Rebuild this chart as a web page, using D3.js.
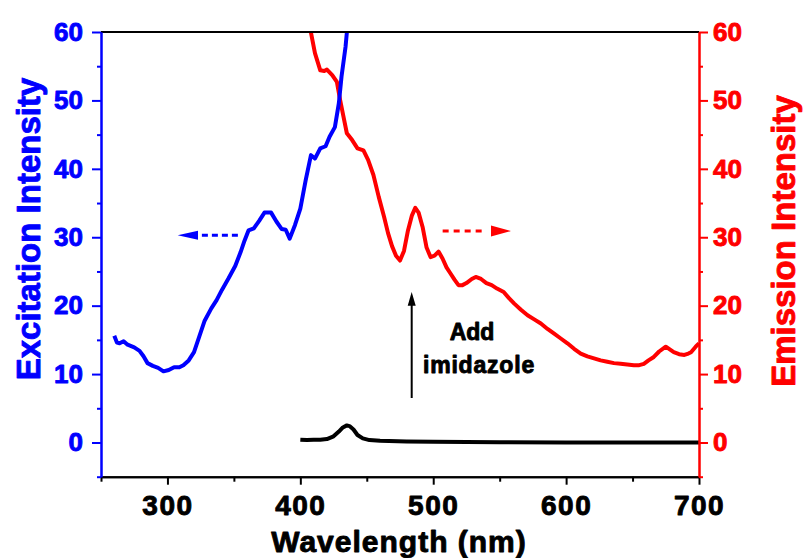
<!DOCTYPE html>
<html>
<head>
<meta charset="utf-8">
<script src="https://cdn.jsdelivr.net/npm/d3@7"></script>
<style>
  body { margin: 0; background: #fff; }
  text { font-family: "Liberation Sans", Arial, sans-serif; font-weight: bold; }
</style>
</head>
<body>
<script>
// excitation spectrum (blue, left axis)
var excWl  = [260, 262, 264, 267, 270, 275, 279, 282, 285, 289, 293, 297, 301, 305, 309, 312, 316, 320, 324, 328,
              333, 337, 341, 346, 351, 355, 358, 361, 365, 369, 373, 378, 382, 386, 389, 392, 396, 400, 404, 408,
              411, 415, 419, 422, 426, 429, 431, 434, 435, 437];
var excVal = [15.6, 14.6, 14.5, 14.8, 14.3, 13.9, 13.4, 12.6, 11.6, 11.2, 10.9, 10.4, 10.6, 11.0, 11.0, 11.3, 12.0, 13.2, 15.5, 17.8,
              19.6, 20.8, 22.3, 24.0, 25.8, 27.8, 29.5, 31.0, 31.3, 32.4, 33.6, 33.6, 32.3, 31.2, 31.1, 29.8, 31.8, 34.2, 38.3, 42.0,
              41.5, 43.0, 43.3, 44.7, 46.1, 49.6, 53.5, 57.8, 59.9, 63];

// emission spectrum (red, right axis)
var emWl  = [404, 408, 411, 415, 418, 420, 424, 427.5, 430, 432.5, 435, 439, 443, 447.5, 451, 455, 459, 463, 466, 469,
             472, 475, 478, 481, 484, 486.5, 489, 492, 495, 498, 501, 504, 507, 510, 513, 516, 519, 522, 525, 529,
             532, 536, 540, 544, 548, 553, 557, 561, 566, 571, 576, 581, 586, 591, 596, 601, 606, 611, 616, 621,
             626, 631, 636, 641, 646, 651, 655, 658.5, 662, 666, 670, 675, 678, 681, 685, 689, 692, 694, 697.5, 700];
var emVal = [65, 59.9, 56.9, 54.4, 54.3, 54.5, 53.7, 52.7, 50.0, 47.6, 45.2, 44.2, 43.0, 42.7, 41.3, 39.1, 35.9, 33.0, 30.6, 28.7,
             27.3, 26.6, 28.0, 31.0, 33.2, 34.3, 33.6, 31.5, 28.5, 27.1, 27.3, 27.9, 26.9, 25.6, 24.7, 23.8, 23.0, 23.0, 23.3, 23.9,
             24.2, 23.9, 23.3, 23.0, 22.5, 22.0, 21.1, 20.3, 19.4, 18.6, 18.0, 17.4, 16.6, 15.9, 15.2, 14.5, 13.7, 13.0, 12.6, 12.3,
             12.0, 11.8, 11.6, 11.5, 11.4, 11.3, 11.3, 11.5, 12.0, 12.5, 13.3, 14.0, 13.6, 13.2, 12.9, 12.8, 13.0, 13.2, 14.0, 14.5];

// emission before imidazole (black)
var baseWl  = [400, 405, 410, 415, 420, 425, 429, 432, 435, 437, 440, 443, 447, 452, 460, 480, 500, 550, 600, 650, 700];
var baseVal = [0.4, 0.35, 0.4, 0.4, 0.5, 0.9, 1.6, 2.2, 2.5, 2.4, 1.9, 1.1, 0.6, 0.35, 0.25, 0.15, 0.1, 0.05, 0.0, 0.0, 0.0];

var xMajor = [300, 400, 500, 600, 700];
var xMinor = [250, 350, 450, 550, 650];
var yMajor = [0, 10, 20, 30, 40, 50, 60];
var yMinor = [-5, 5, 15, 25, 35, 45, 55];

var width = 806;
var height = 558;
var margin = { top: 32, left: 101, right: 107, bottom: 81.3 };

var x = d3.scaleLinear().domain([250, 700]).range([margin.left, width - margin.right]);
var y = d3.scaleLinear().domain([-5, 60]).range([height - margin.bottom, margin.top]);

var svg = d3.select('body').append('svg')
    .attr('width', width)
    .attr('height', height);

svg.append('clipPath').attr('id', 'plot')
    .append('rect')
    .attr('x', x(250)).attr('y', y(60))
    .attr('width', x(700) - x(250)).attr('height', y(-5) - y(60));

function pts(wl, val) {
    return wl.map(function (d, i) { return [d, val[i]]; });
}

var line = d3.line()
    .x(function (d) { return x(d[0]); })
    .y(function (d) { return y(d[1]); });

var curves = [
    { data: pts(baseWl, baseVal), color: '#000' },
    { data: pts(emWl, emVal), color: '#f00' },
    { data: pts(excWl, excVal), color: '#00f' }
];

svg.append('g').attr('clip-path', 'url(#plot)')
    .selectAll('path')
    .data(curves)
    .join('path')
    .attr('d', function (d) { return line(d.data); })
    .attr('fill', 'none')
    .attr('stroke', function (d) { return d.color; })
    .attr('stroke-width', 4)
    .attr('stroke-linejoin', 'round');

// top frame line
svg.append('line')
    .attr('x1', x(250)).attr('x2', x(700))
    .attr('y1', y(60)).attr('y2', y(60))
    .attr('stroke', '#000').attr('stroke-width', 2);

function styleAxis(g, color, size) {
    g.select('.domain').attr('stroke', color).attr('stroke-width', 2);
    g.selectAll('.tick line').attr('stroke', color).attr('stroke-width', 2);
    g.selectAll('.tick text').attr('fill', color).style('font-size', size + 'px');
    g.attr('font-family', null).attr('font-size', null);
}

// x axis
var gx = svg.append('g').attr('transform', 'translate(0,' + y(-5) + ')');
gx.call(d3.axisBottom(x).tickValues(xMinor).tickSize(5).tickSizeOuter(0).tickFormat(''));
styleAxis(gx, '#000', 28);
var gx2 = svg.append('g').attr('transform', 'translate(0,' + y(-5) + ')');
gx2.call(d3.axisBottom(x).tickValues(xMajor).tickSize(8).tickPadding(10).tickSizeOuter(0).tickFormat(d3.format('d')));
styleAxis(gx2, '#000', 28);
gx2.selectAll('.tick text').attr('letter-spacing', '1.5px');

// left axis
var gl = svg.append('g').attr('transform', 'translate(' + x(250) + ',0)');
gl.call(d3.axisLeft(y).tickValues(yMinor).tickSize(4).tickSizeOuter(0).tickFormat(''));
styleAxis(gl, '#00f', 26);
var gl2 = svg.append('g').attr('transform', 'translate(' + x(250) + ',0)');
gl2.call(d3.axisLeft(y).tickValues(yMajor).tickSize(9).tickPadding(9).tickSizeOuter(0));
styleAxis(gl2, '#00f', 26);

// right axis
var gr = svg.append('g').attr('transform', 'translate(' + x(700) + ',0)');
gr.call(d3.axisRight(y).tickValues(yMinor).tickSize(4).tickSizeOuter(0).tickFormat(''));
styleAxis(gr, '#f00', 26);
var gr2 = svg.append('g').attr('transform', 'translate(' + x(700) + ',0)');
gr2.call(d3.axisRight(y).tickValues(yMajor).tickSize(9).tickPadding(5).tickSizeOuter(0));
styleAxis(gr2, '#f00', 26);

// axis titles
svg.append('text')
    .attr('x', 399).attr('y', 552)
    .attr('text-anchor', 'middle')
    .attr('letter-spacing', '1px')
    .style('font-size', '30px')
    .attr('fill', '#000')
    .text('Wavelength (nm)');

svg.append('text')
    .attr('transform', 'translate(40,229) rotate(-90)')
    .attr('text-anchor', 'middle')
    .style('font-size', '33px')
    .attr('fill', '#00f')
    .text('Excitation Intensity');

svg.append('text')
    .attr('transform', 'translate(795,241) rotate(-90)')
    .attr('text-anchor', 'middle')
    .style('font-size', '33px')
    .attr('fill', '#f00')
    .text('Emission Intensity');

// direction arrows
function arrow(x0, x1, xb, xt, yv, color, dash, half) {
    svg.append('line')
        .attr('x1', x(x0)).attr('x2', x(x1))
        .attr('y1', y(yv)).attr('y2', y(yv))
        .attr('stroke', color).attr('stroke-width', 3)
        .attr('stroke-dasharray', dash);
    svg.append('path')
        .attr('d', 'M' + x(xt) + ',' + y(yv) + 'L' + x(xb) + ',' + (y(yv) - half) +
              'L' + x(xb) + ',' + (y(yv) + half) + 'Z')
        .attr('fill', color);
}
arrow(353, 323, 323, 307.7, 30.3, '#00f', '6,4', 4.5);
arrow(507.1, 540.2, 543.5, 558.5, 30.9, '#f00', '6,5', 5.5);

// black vertical arrow
svg.append('line')
    .attr('x1', x(483.8)).attr('x2', x(483.8))
    .attr('y1', y(6.5)).attr('y2', y(20.5))
    .attr('stroke', '#000').attr('stroke-width', 2);
svg.append('path')
    .attr('d', 'M' + x(483.8) + ',' + y(22.0) + 'L' + (x(483.8) - 4) + ',' + y(20.0) +
          'L' + (x(483.8) + 4) + ',' + y(20.0) + 'Z')
    .attr('fill', '#000');

svg.append('text')
    .attr('x', 472).attr('y', 340)
    .attr('text-anchor', 'middle')
    .style('font-size', '23px')
    .attr('fill', '#000')
    .text('Add');
svg.append('text')
    .attr('x', 479).attr('y', 373)
    .attr('text-anchor', 'middle')
    .attr('letter-spacing', '0.8px')
    .style('font-size', '23px')
    .attr('fill', '#000')
    .text('imidazole');

// heavier glyphs, like the original's bold face
svg.selectAll('text').each(function () {
    var t = d3.select(this);
    t.attr('stroke', t.attr('fill')).attr('stroke-width', 0.9).attr('stroke-linejoin', 'round');
});
</script>
</body>
</html>
